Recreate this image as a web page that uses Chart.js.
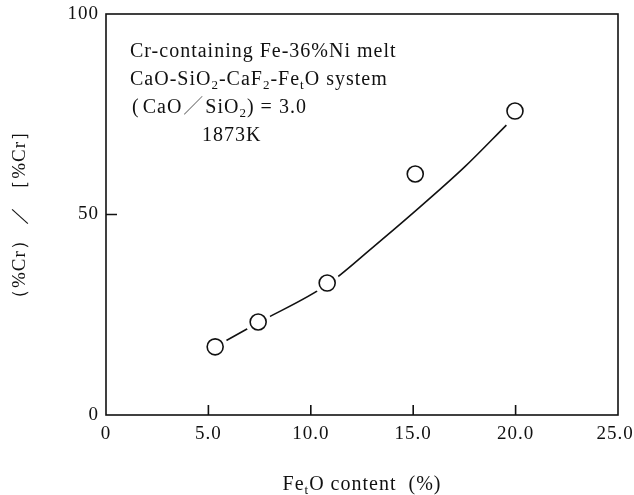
<!DOCTYPE html>
<html>
<head>
<meta charset="utf-8">
<script src="https://cdn.jsdelivr.net/npm/chart.js@4.4.1/dist/chart.umd.min.js"></script>
<style>
  html, body { margin: 0; padding: 0; background: #fff; }
</style>
</head>
<body>
<canvas id="c" width="634" height="495"></canvas>
<script>
// measured points (FetO content %, (%Cr)/[%Cr])
var feoContent = [5.33, 7.43, 10.8, 15.1, 19.97];
var crRatio = [17.0, 23.2, 32.9, 60.1, 75.8];

// smooth guide line
var curveX = [5.33, 7.43, 10.8, 13.0, 15.0, 17.5, 19.55];
var curveY = [17.0, 23.0, 32.5, 41.7, 50.4, 61.8, 72.3];

// tick labels
var xTicks = [0, 5, 10, 15, 20, 25];
var xTickText = ["0", "5.0", "10.0", "15.0", "20.0", "25.0"];
var yTicks = [0, 50, 100];
var yTickText = ["0", "50", "100"];

var SERIF = '"Liberation Serif", "Times New Roman", serif';
var INK = "#111";

function toXY(xs, ys) {
  return xs.map(function (x, i) { return { x: x, y: ys[i] }; });
}

// draws text made of parts, some of them subscripts
function drawRich(ctx, parts, x, y, size) {
  parts.forEach(function (p) {
    var fs = p.sub ? Math.round(size * 0.64) : size;
    ctx.font = fs + "px " + (p.cjk ? '"Noto Sans CJK JP", sans-serif' : SERIF);
    ctx.fillStyle = p.color || INK;
    ctx.fillText(p.t, x, y + (p.sub ? size * 0.22 : 0));
    x += ctx.measureText(p.t).width + (p.gap || 0);
  });
}

function richWidth(ctx, parts, size) {
  var w = 0;
  parts.forEach(function (p) {
    ctx.font = (p.sub ? Math.round(size * 0.64) : size) + "px " + SERIF;
    w += ctx.measureText(p.t).width + (p.gap || 0);
  });
  return w;
}

var deco = {
  id: "deco",
  beforeUpdate: function (chart) { chart.ctx.letterSpacing = "1px"; },
  beforeDraw: function (chart) { chart.ctx.letterSpacing = "1px"; },
  afterDraw: function (chart) {
    var ctx = chart.ctx, a = chart.chartArea;
    var sx = chart.scales.x, sy = chart.scales.y;
    ctx.save();
    // frame
    ctx.strokeStyle = INK;
    ctx.lineWidth = 1.6;
    ctx.strokeRect(a.left, a.top, a.right - a.left, a.bottom - a.top);
    // inward tick marks
    ctx.beginPath();
    sx.ticks.forEach(function (t) {
      var px = sx.getPixelForValue(t.value);
      if (px > a.left + 2 && px < a.right - 2) {
        ctx.moveTo(px, a.bottom);
        ctx.lineTo(px, a.bottom - 10);
      }
    });
    sy.ticks.forEach(function (t) {
      var py = sy.getPixelForValue(t.value);
      if (py > a.top + 2 && py < a.bottom - 2) {
        ctx.moveTo(a.left, py);
        ctx.lineTo(a.left + 11, py);
      }
    });
    ctx.stroke();

    // note block
    ctx.textBaseline = "alphabetic";
    ctx.letterSpacing = "1px";
    var fs = 20, x0 = a.left + 24;
    drawRich(ctx, [{ t: "Cr-containing Fe-36%Ni melt" }], x0, 57, fs);
    drawRich(ctx, [{ t: "CaO-SiO" }, { t: "2", sub: true }, { t: "-CaF" }, { t: "2", sub: true },
      { t: "-Fe" }, { t: "t", sub: true }, { t: "O system" }], x0, 85, fs);
    drawRich(ctx, [{ t: "(", gap: 3 }, { t: "CaO", gap: 1 }, { t: "／", cjk: true, color: "#777", gap: 1 },
      { t: "SiO" }, { t: "2", sub: true }, { t: ")", gap: 6 }, { t: "= 3.0" }], x0 + 2, 113, fs);
    drawRich(ctx, [{ t: "1873K" }], x0 + 72, 141, fs);

    // x axis title
    var parts = [{ t: "Fe" }, { t: "t", sub: true }, { t: "O content", gap: 12 }, { t: "(%)" }];
    var w = richWidth(ctx, parts, fs);
    drawRich(ctx, parts, (a.left + a.right) / 2 - w / 2, 490, fs);
    ctx.restore();
  }
};

new Chart(document.getElementById("c"), {
  type: "scatter",
  data: {
    datasets: [
      {
        label: "measured",
        data: toXY(feoContent, crRatio),
        pointRadius: 8,
        pointHoverRadius: 8,
        pointBorderWidth: 1.6,
        pointBackgroundColor: "#fff",
        pointBorderColor: INK,
        showLine: false,
        order: 0
      },
      {
        label: "gap",
        data: toXY(feoContent, crRatio),
        pointRadius: 13,
        pointHoverRadius: 13,
        pointBorderWidth: 0,
        pointBackgroundColor: "#fff",
        pointBorderColor: "#fff",
        showLine: false,
        order: 1
      },
      {
        label: "fit",
        data: toXY(curveX, curveY),
        showLine: true,
        pointRadius: 0,
        pointHoverRadius: 0,
        borderColor: INK,
        borderWidth: 1.6,
        cubicInterpolationMode: "monotone",
        order: 2
      }
    ]
  },
  options: {
    responsive: false,
    animation: false,
    events: [],
    layout: { padding: { left: 0, right: 16, top: 14, bottom: 0 } },
    plugins: { legend: { display: false }, tooltip: { enabled: false } },
    scales: {
      x: {
        type: "linear",
        min: 0,
        max: 25,
        grid: { display: false, drawTicks: false },
        border: { display: false },
        afterBuildTicks: function (s) { s.ticks = xTicks.map(function (v) { return { value: v }; }); },
        afterFit: function (s) { s.height = 80; s.paddingLeft = 0; s.paddingRight = 0; },
        ticks: {
          padding: 8,
          color: INK,
          font: { family: SERIF, size: 19 },
          // the last label sits at the canvas edge; a trailing space nudges it inside
          callback: function (v) {
            var i = xTicks.indexOf(v);
            return xTickText[i] + (i === xTicks.length - 1 ? " " : "");
          }
        }
      },
      y: {
        type: "linear",
        min: 0,
        max: 100,
        grid: { display: false, drawTicks: false },
        border: { display: false },
        afterBuildTicks: function (s) { s.ticks = yTicks.map(function (v) { return { value: v }; }); },
        afterFit: function (s) { s.width = 106; s.paddingTop = 0; s.paddingBottom = 0; },
        ticks: {
          padding: 7,
          color: INK,
          font: { family: SERIF, size: 19 },
          callback: function (v) { return yTickText[yTicks.indexOf(v)]; }
        },
        title: {
          display: true,
          text: "（%Cr） ／ ［%Cr］",
          color: INK,
          font: { family: SERIF, size: 19 },
          padding: { top: 9, bottom: 0 }
        }
      }
    }
  },
  plugins: [deco]
});
</script>
</body>
</html>
